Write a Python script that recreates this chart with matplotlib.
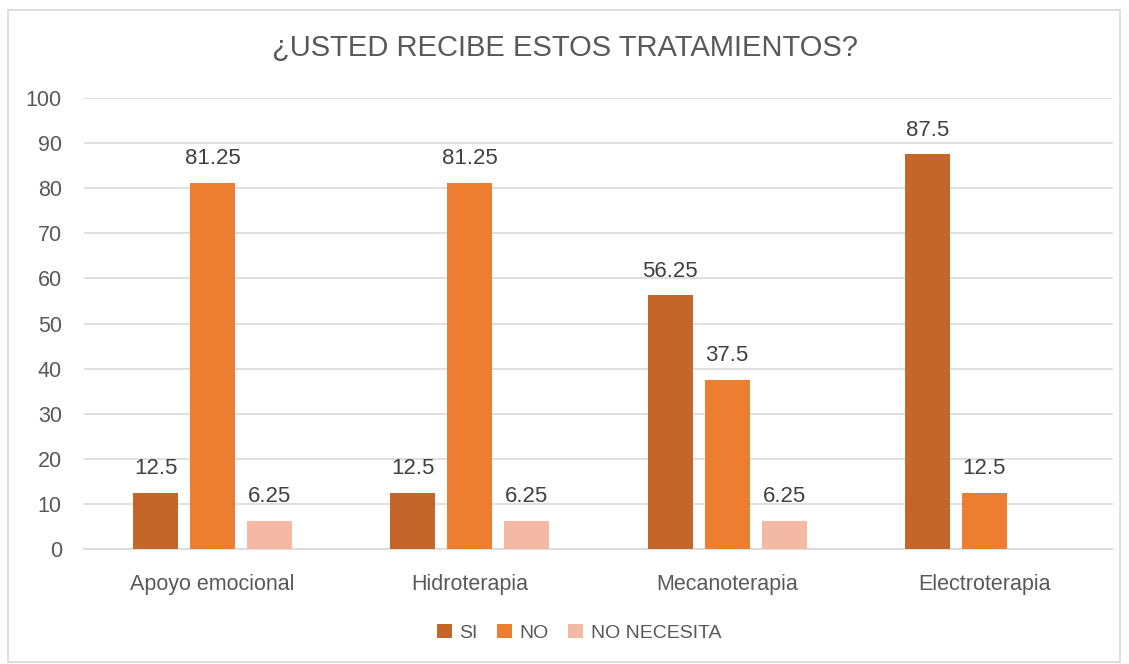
import numpy as np
import matplotlib.pyplot as plt
from matplotlib.patches import Rectangle

# Données
categories = ['Apoyo emocional', 'Hidroterapia', 'Mecanoterapia', 'Electroterapia']
series_names = ['SI', 'NO', 'NO NECESITA']
si_values = [12.5, 12.5, 56.25, 87.5]
no_values = [81.25, 81.25, 37.5, 12.5]
nn_values = [6.25, 6.25, 6.25, np.nan]
colors = ['#C4652A', '#ED7D31', '#F4B9A5']
y_ticks = list(range(0, 101, 10))
title = '¿USTED RECIBE ESTOS TRATAMIENTOS?'

plt.rcParams['font.family'] = ['Liberation Sans', 'DejaVu Sans']
txt = '#595959'

fig = plt.figure(figsize=(11.29, 6.64), dpi=100)
ax = fig.add_axes([84 / 1129, 1 - 549 / 664, 1029 / 1129, 451 / 664])

# cadre extérieur
fig.patches.append(Rectangle((8 / 1129, 2 / 664), 1112 / 1129, 652 / 664,
                             transform=fig.transFigure, fill=False,
                             edgecolor='#D9D9D9', linewidth=1.2))

x = np.arange(len(categories))
width = 0.175
step = 0.222
for i, (vals, name) in enumerate(zip([si_values, no_values, nn_values], series_names)):
    pos = x + (i - 1) * step
    bars = ax.bar(pos, vals, width, color=colors[i], label=name, zorder=3)
    for b, v in zip(bars, vals):
        if np.isnan(v):
            continue
        ax.text(b.get_x() + b.get_width() / 2, v + 3.0, f'{v:g}',
                ha='center', va='bottom', fontsize=16, color='#404040')

ax.set_xlim(-0.5, len(categories) - 0.5)
ax.set_ylim(0, 100)
ax.set_yticks(y_ticks)
ax.set_xticks(x)
ax.set_xticklabels(categories)
ax.tick_params(axis='both', length=0, labelsize=15.5, labelcolor=txt)
ax.tick_params(axis='x', pad=18)
ax.tick_params(axis='y', pad=16)
ax.grid(axis='y', color='#D9D9D9', linewidth=1.2, zorder=0)
for s in ['top', 'right', 'left']:
    ax.spines[s].set_visible(False)
ax.spines['bottom'].set_color('#D9D9D9')
ax.spines['bottom'].set_linewidth(1.2)

fig.text(0.5, 1 - 48 / 664, title, ha='center', va='center', fontsize=21, color=txt)

fig.legend(loc='center', bbox_to_anchor=(579 / 1129, 1 - 633 / 664), ncol=3, frameon=False,
           fontsize=14, labelcolor=txt, handlelength=0.75, handleheight=0.75,
           handletextpad=0.4, columnspacing=1.0)

plt.savefig('out.png', dpi=100)
